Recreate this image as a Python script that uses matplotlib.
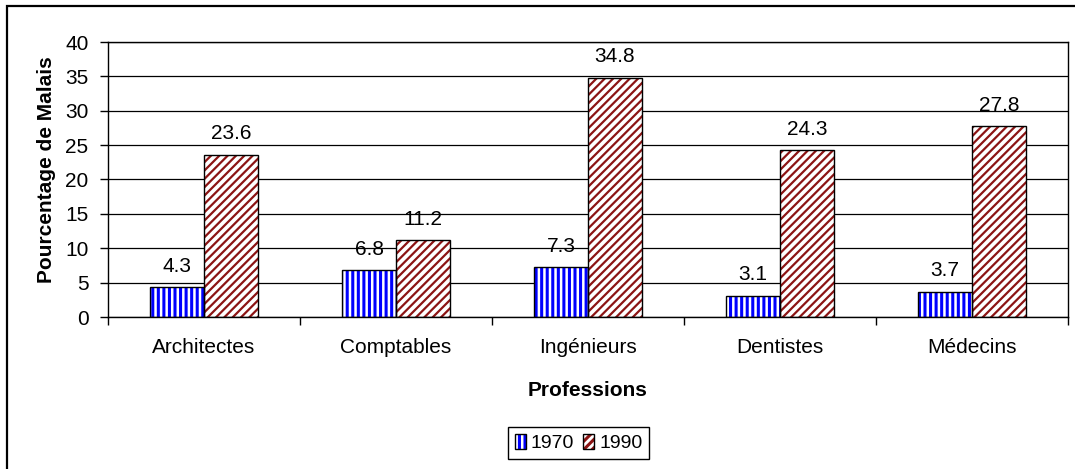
import matplotlib
matplotlib.use("Agg")
import matplotlib.pyplot as plt
from matplotlib.patches import Patch, Rectangle
import numpy as np

categories = ["Architectes", "Comptables", "Ingénieurs", "Dentistes", "Médecins"]
years = ["1970", "1990"]
values_1970 = [4.3, 6.8, 7.3, 3.1, 3.7]
values_1990 = [23.6, 11.2, 34.8, 24.3, 27.8]
yticks = [0, 5, 10, 15, 20, 25, 30, 35, 40]

plt.rcParams['font.family'] = ['Liberation Sans', 'DejaVu Sans']
plt.rcParams['hatch.linewidth'] = 2.2

blue = "#0000FF"
red = "#8C1414"

fig = plt.figure(figsize=(10.75, 4.69), dpi=100)
ax = fig.add_axes([108/1075, 1-317/469, 960/1075, 275/469])

x = np.arange(len(categories))
w = 0.28


def set_hlw(artists, lw):
    for a in artists:
        if hasattr(a, "set_hatch_linewidth"):
            a.set_hatch_linewidth(lw)


# hatched fills
b1 = ax.bar(x, values_1970, width=-w, align='edge', color='white', edgecolor=blue,
            hatch='|||', linewidth=0, zorder=2)
b2 = ax.bar(x, values_1990, width=w, align='edge', color='white', edgecolor=red,
            hatch='////', linewidth=0, zorder=2)
set_hlw(b1, 2.2)
set_hlw(b2, 1.6)
# outlines
ax.bar(x, values_1970, width=-w, align='edge', fill=False, edgecolor='black',
       linewidth=1.0, zorder=3)
ax.bar(x, values_1990, width=w, align='edge', fill=False, edgecolor='black',
       linewidth=1.0, zorder=3)

for xi, v in zip(x, values_1970):
    ax.annotate(f"{v:.1f}", (xi - w/2, v), xytext=(0, 11), textcoords='offset points',
                ha='center', va='baseline', fontsize=15, zorder=4)
for xi, v in zip(x, values_1990):
    ax.annotate(f"{v:.1f}", (xi + w/2, v), xytext=(0, 11), textcoords='offset points',
                ha='center', va='baseline', fontsize=15, zorder=4)

ax.set_xlim(-0.5, len(categories) - 0.5)
ax.set_ylim(0, 40)
ax.set_yticks(yticks)
ax.set_yticklabels([str(t) for t in yticks], fontsize=15)
ax.yaxis.grid(True, color='black', linewidth=0.9, zorder=0)
ax.set_axisbelow(True)

ax.set_xticks(x)
ax.set_xticklabels(categories, fontsize=15)
ax.set_xticks(np.arange(len(categories) + 1) - 0.5, minor=True)
ax.tick_params(axis='x', which='major', length=0, pad=15)
ax.tick_params(axis='x', which='minor', length=6, width=1, direction='out')
ax.tick_params(axis='y', length=6, width=1, direction='out', pad=8)

for s in ax.spines.values():
    s.set_linewidth(1.0)
    s.set_color('black')

ax.set_ylabel("Pourcentage de Malais", fontsize=15, fontweight='bold')
ax.yaxis.set_label_coords(-0.054, 0.535)
ax.set_xlabel("Professions", fontsize=15, fontweight='bold')
ax.xaxis.set_label_coords(0.5, -0.232)

p1 = Patch(facecolor='white', edgecolor=blue, hatch='|||', linewidth=0)
p2 = Patch(facecolor='white', edgecolor=red, hatch='////', linewidth=0)
set_hlw([p1], 2.2)
set_hlw([p2], 1.6)
h1 = (p1, Patch(fill=False, edgecolor='black', linewidth=1.0))
h2 = (p2, Patch(fill=False, edgecolor='black', linewidth=1.0))
leg = fig.legend([h1, h2], years, loc='upper left', bbox_to_anchor=(508/1075, 1-427/469),
                 bbox_transform=fig.transFigure, ncol=2, fontsize=14, frameon=True,
                 fancybox=False, edgecolor='black', framealpha=1,
                 handlelength=0.55, handleheight=0.8, handletextpad=0.25,
                 columnspacing=0.5, borderpad=0.35, borderaxespad=0)
leg.get_frame().set_linewidth(1.0)

frame = Rectangle((7/1075, -0.05), 1.1, 1 - 6/469 + 0.05, transform=fig.transFigure,
                  fill=False, edgecolor='black', linewidth=1.6, clip_on=False)
fig.patches.append(frame)

fig.savefig("out.png", dpi=100)
